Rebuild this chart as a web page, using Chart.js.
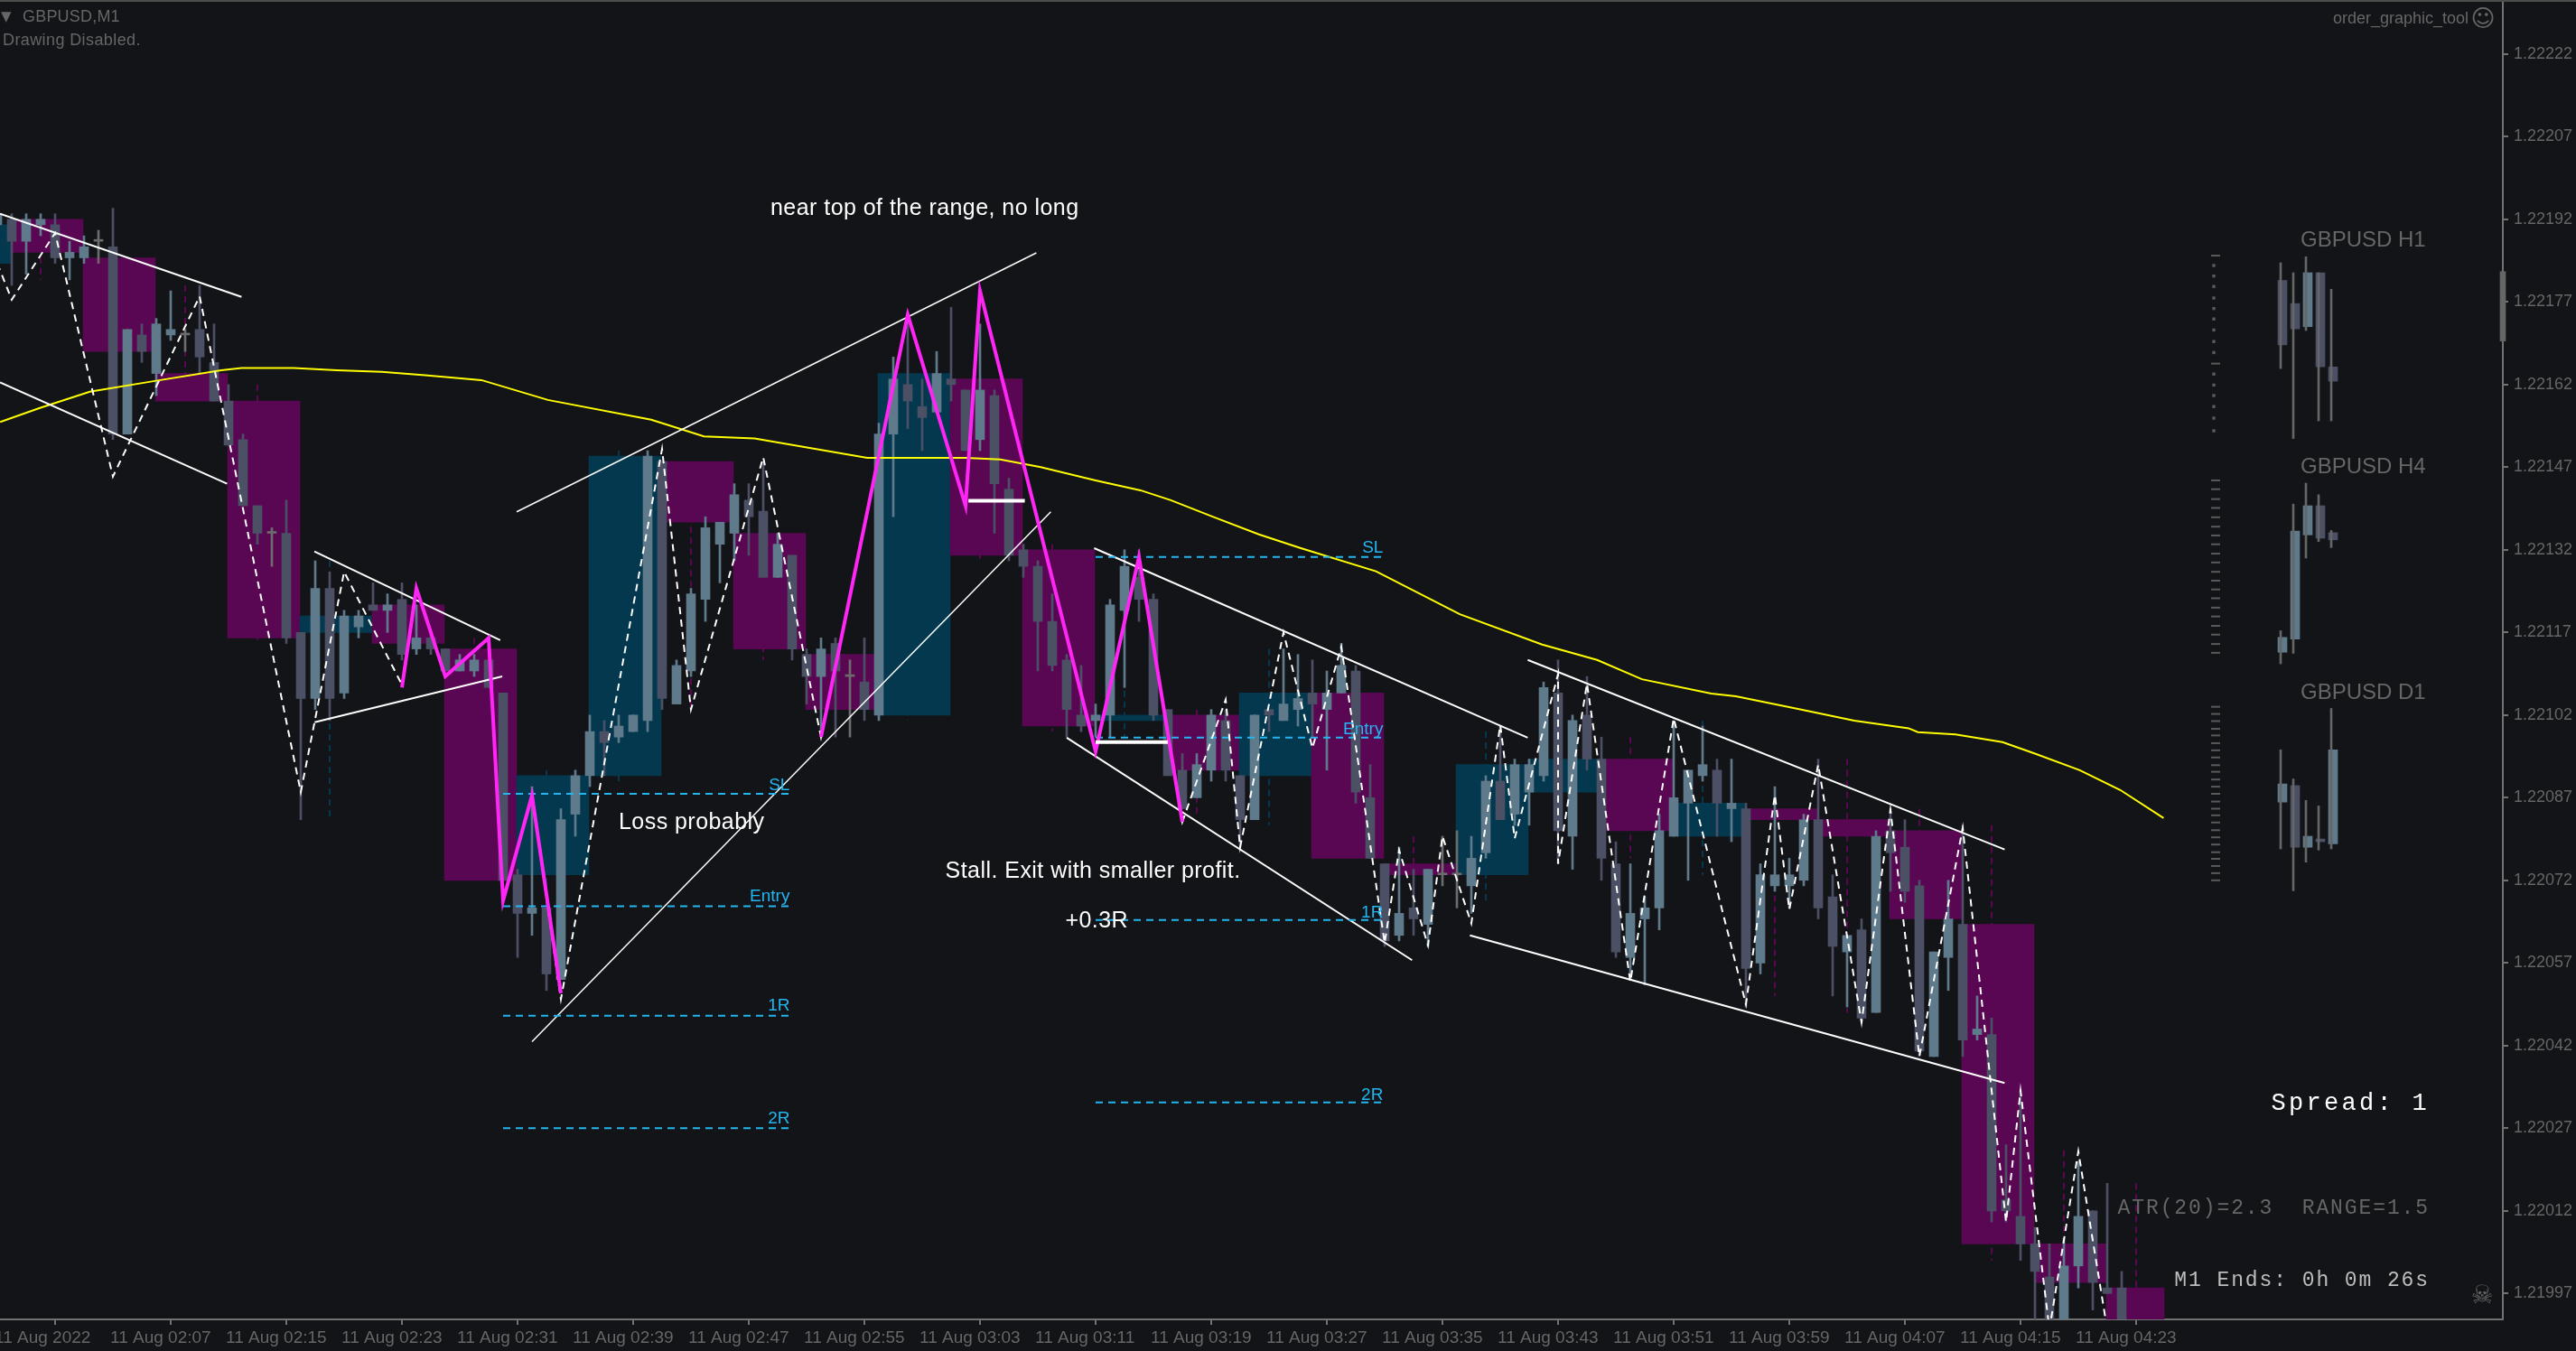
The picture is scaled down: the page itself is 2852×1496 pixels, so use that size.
<!DOCTYPE html>
<html lang="en">
<head>
<meta charset="UTF-8">
<title>GBPUSD,M1</title>
<script src="https://cdn.jsdelivr.net/npm/chart.js"></script>
<style>
    * { margin: 0; padding: 0; box-sizing: border-box; }
    body { background: #131417; overflow: hidden; }
    canvas { display: block; }
</style>
</head>
<body>
<canvas id="chart" width="2852" height="1496"></canvas>
<script>
// M1 candles, x is minutes after 02:00 (first candle is 01:59)
const firstMinute = -1;
const opens = [
    1.22191,1.22192,1.22188,1.22191,1.22191,1.22185,1.22185,1.22188,1.22187,1.22153,
    1.22171,1.22164,1.22171,1.22171,1.22172,1.22166,1.22159,1.22152,1.22140,1.22135,
    1.22135,1.22117,1.22105,1.22125,1.22106,1.22118,1.22122,1.22121,1.22123,1.22114,
    1.22116,1.22114,1.22110,1.22110,1.22112,1.22106,1.22073,1.22066,1.22067,1.22054,
    1.22084,1.22091,1.22099,1.22098,1.22099,1.22101,1.22148,1.22104,1.22110,1.22123,
    1.22133,1.22135,1.22141,1.22139,1.22127,1.22131,1.22113,1.22109,1.22115,1.22109,
    1.22108,1.22102,1.22153,1.22162,1.22158,1.22157,1.22163,1.22161,1.22152,1.22160,
    1.22143,1.22132,1.22129,1.22119,1.22112,1.22102,1.22101,1.22102,1.22121,1.22127,
    1.22123,1.22103,1.22092,1.22087,1.22092,1.22101,1.22091,1.22083,1.22103,1.22101,
    1.22103,1.22106,1.22103,1.22106,1.22110,1.22087,1.22075,1.22062,1.22067,1.22064,
    1.22073,1.22073,1.22071,1.22077,1.22090,1.22084,1.22088,1.22091,1.22106,1.22080,
    1.22102,1.22094,1.22075,1.22058,1.22065,1.22067,1.22080,1.22086,1.22091,1.22092,
    1.22085,1.22085,1.22057,1.22071,1.22071,1.22072,1.22083,1.22069,1.22059,1.22063,
    1.22048,1.22081,1.22078,1.22071,1.22040,1.22058,1.22064,1.22044,1.22044,1.22014,
    1.22011,1.22006,1.22000,1.21991,1.22002,1.22012,1.21998,1.21998
];
const highs = [
    1.22194,1.22193,1.22193,1.22193,1.22193,1.22188,1.22189,1.22190,1.22194,1.22172,
    1.22173,1.22174,1.22179,1.22172,1.22180,1.22173,1.22162,1.22153,1.22140,1.22136,
    1.22141,1.22117,1.22130,1.22128,1.22121,1.22121,1.22126,1.22124,1.22126,1.22122,
    1.22117,1.22114,1.22113,1.22113,1.22112,1.22106,1.22074,1.22089,1.22067,1.22085,
    1.22092,1.22102,1.22101,1.22102,1.22102,1.22150,1.22148,1.22112,1.22125,1.22138,
    1.22137,1.22144,1.22144,1.22148,1.22135,1.22131,1.22114,1.22116,1.22116,1.22112,
    1.22116,1.22155,1.22167,1.22174,1.22163,1.22168,1.22176,1.22161,1.22173,1.22161,
    1.22145,1.22133,1.22130,1.22124,1.22113,1.22111,1.22104,1.22123,1.22132,1.22132,
    1.22124,1.22103,1.22095,1.22095,1.22103,1.22103,1.22091,1.22102,1.22103,1.22114,
    1.22113,1.22112,1.22110,1.22115,1.22111,1.22093,1.22075,1.22078,1.22074,1.22074,
    1.22080,1.22081,1.22080,1.22091,1.22100,1.22094,1.22094,1.22108,1.22112,1.22102,
    1.22109,1.22098,1.22079,1.22075,1.22069,1.22084,1.22101,1.22092,1.22100,1.22094,
    1.22094,1.22086,1.22075,1.22089,1.22076,1.22084,1.22094,1.22073,1.22062,1.22065,
    1.22081,1.22085,1.22083,1.22072,1.22059,1.22072,1.22082,1.22051,1.22047,1.22024,
    1.22034,1.22009,1.22006,1.22007,1.22021,1.22012,1.22017,1.22001
];
const lows = [
    1.22190,1.22180,1.22182,1.22189,1.22184,1.22181,1.22184,1.22184,1.22152,1.22153,
    1.22166,1.22160,1.22170,1.22168,1.22164,1.22159,1.22151,1.22140,1.22133,1.22129,
    1.22115,1.22083,1.22103,1.22101,1.22105,1.22116,1.22121,1.22117,1.22112,1.22113,
    1.22113,1.22110,1.22110,1.22109,1.22107,1.22072,1.22058,1.22062,1.22052,1.22054,
    1.22080,1.22089,1.22091,1.22097,1.22099,1.22099,1.22103,1.22104,1.22109,1.22119,
    1.22126,1.22130,1.22131,1.22127,1.22127,1.22112,1.22104,1.22099,1.22098,1.22098,
    1.22101,1.22101,1.22138,1.22154,1.22150,1.22157,1.22159,1.22150,1.22150,1.22135,
    1.22130,1.22127,1.22110,1.22110,1.22098,1.22099,1.22098,1.22098,1.22107,1.22119,
    1.22101,1.22091,1.22085,1.22087,1.22090,1.22090,1.22078,1.22083,1.22099,1.22101,
    1.22100,1.22098,1.22092,1.22106,1.22086,1.22076,1.22060,1.22061,1.22062,1.22060,
    1.22071,1.22067,1.22066,1.22076,1.22083,1.22082,1.22082,1.22090,1.22075,1.22074,
    1.22092,1.22072,1.22058,1.22054,1.22053,1.22063,1.22080,1.22072,1.22090,1.22080,
    1.22079,1.22049,1.22055,1.22070,1.22067,1.22071,1.22065,1.22051,1.22049,1.22047,
    1.22048,1.22070,1.22068,1.22040,1.22040,1.22052,1.22040,1.22043,1.22010,1.22010,
    1.22003,1.21991,1.21991,1.21991,1.21998,1.21994,1.21997,1.21991
];
const closes = [
    1.22193,1.22188,1.22192,1.22192,1.22185,1.22186,1.22187,1.22188,1.22153,1.22172,
    1.22168,1.22173,1.22172,1.22171,1.22167,1.22159,1.22151,1.22140,1.22135,1.22135,
    1.22116,1.22105,1.22125,1.22105,1.22120,1.22120,1.22121,1.22122,1.22113,1.22116,
    1.22114,1.22110,1.22112,1.22112,1.22107,1.22072,1.22066,1.22067,1.22055,1.22083,
    1.22091,1.22099,1.22097,1.22100,1.22102,1.22149,1.22105,1.22111,1.22124,1.22136,
    1.22137,1.22142,1.22138,1.22127,1.22133,1.22114,1.22109,1.22114,1.22110,1.22109,
    1.22103,1.22153,1.22163,1.22159,1.22156,1.22164,1.22162,1.22150,1.22161,1.22144,
    1.22131,1.22129,1.22119,1.22111,1.22103,1.22100,1.22102,1.22122,1.22129,1.22123,
    1.22102,1.22091,1.22085,1.22093,1.22102,1.22092,1.22083,1.22102,1.22102,1.22104,
    1.22105,1.22104,1.22106,1.22111,1.22088,1.22076,1.22061,1.22066,1.22065,1.22074,
    1.22073,1.22073,1.22076,1.22090,1.22083,1.22093,1.22093,1.22107,1.22081,1.22101,
    1.22094,1.22076,1.22059,1.22066,1.22067,1.22081,1.22087,1.22092,1.22093,1.22086,
    1.22086,1.22056,1.22073,1.22073,1.22073,1.22083,1.22067,1.22060,1.22062,1.22047,
    1.22080,1.22077,1.22070,1.22041,1.22059,1.22065,1.22043,1.22045,1.22012,1.22012,
    1.22006,1.22001,1.21991,1.22002,1.22011,1.21999,1.21997,1.21991
];

// M5 boxes behind the candles
const boxMinutes = [-5,0,5,10,15,20,25,30,35,40,45,50,55,60,65,70,75,80,85,90,95,100,105,110,115,120,125,130,135,140];
const boxOpens = [1.22184,1.22192,1.22185,1.22164,1.22159,1.22117,1.22122,1.22114,1.22073,1.22091,1.22148,1.22135,1.22113,1.22102,1.22163,1.22132,1.22101,1.22102,1.22091,1.22106,1.22075,1.22073,1.22088,1.22094,1.22080,1.22085,1.22083,1.22081,1.22064,1.22006];
const boxCloses = [1.22191,1.22186,1.22168,1.22159,1.22116,1.22120,1.22115,1.22072,1.22091,1.22149,1.22137,1.22114,1.22103,1.22164,1.22131,1.22100,1.22102,1.22092,1.22106,1.22076,1.22073,1.22093,1.22094,1.22081,1.22086,1.22083,1.22080,1.22065,1.22006,1.21999];
const boxHighs = [1.22191,1.22193,1.22194,1.22180,1.22162,1.22130,1.22126,1.22116,1.22092,1.22150,1.22148,1.22148,1.22116,1.22164,1.22163,1.22133,1.22132,1.22103,1.22114,1.22106,1.22080,1.22099,1.22094,1.22098,1.22101,1.22085,1.22094,1.22085,1.22082,1.22023];
const boxLows = [1.22184,1.22181,1.22152,1.22159,1.22115,1.22083,1.22112,1.22072,1.22053,1.22090,1.22103,1.22112,1.22098,1.22101,1.22130,1.22099,1.22098,1.22084,1.22082,1.22076,1.22062,1.22068,1.22088,1.22076,1.22073,1.22051,1.22048,1.22040,1.22003,1.21991];
// the M5 bar still forming at the right edge
const liveBoxMinute = 145;
const liveBoxOpen = 1.21998;
const liveBoxClose = 1.21991;
const liveBoxHigh = 1.22017;

// moving average
const maMinutes = [-0.8,1.9,5.4,9.8,14.5,15.9,19.5,22.5,25.6,28.6,32.5,37.1,44.25,47.9,51.4,59.2,66,68.4,71.2,75,78.1,80.2,83.1,86.3,89.2,94.4,100.2,105.9,109.7,112.8,117.6,119.3,123.6,127.5,131.25,131.9,134.5,137.75,140,143.1,145.9,148.9];
const maPrices = [1.221552,1.221577,1.221607,1.221626,1.221646,1.22165,1.22165,1.221646,1.221643,1.221637,1.221628,1.221592,1.221556,1.221526,1.221522,1.221487,1.221487,1.221484,1.22147,1.221446,1.221428,1.22141,1.22138,1.221348,1.221323,1.221281,1.221203,1.221148,1.22112,1.221085,1.221059,1.221054,1.221031,1.22101,1.220996,1.220989,1.220985,1.220971,1.22095,1.22092,1.220884,1.220833];

// dashed swing line
const swingMinutes = [-1,0,3,7,13,20,23,27,28,30,33,34,36,38,45,47,52,56,62,66,67,75,78,81,84,85,88,90,92,95,96,98,99,101,103,104,107,107,109,112,115,120,122,123,125,128,130,132,135,138,139,141,143,145];
const swingPrices = [1.22184,1.221774,1.221895,1.221453,1.22178,1.22088,1.22128,1.221075,1.22125,1.22109,1.22116,1.220683,1.220874,1.220504,1.221503,1.22103,1.221488,1.22098,1.221747,1.2214,1.22179,1.220954,1.221307,1.220826,1.221048,1.22078,1.22117,1.22096,1.221144,1.220606,1.220775,1.220602,1.2208,1.220642,1.221002,1.220796,1.221094,1.22075,1.221077,1.220536,1.221014,1.220495,1.220875,1.220667,1.22093,1.220462,1.220848,1.2204,1.220815,1.2201,1.220338,1.219905,1.220228,1.219905];

// magenta legs, null breaks the line
const legMinutes = [27,28,30,33,34,36,38,null,56,62,66,67,75,78,81];
const legPrices = [1.22107,1.22125,1.22109,1.22116,1.220683,1.220874,1.220515,null,1.22098,1.221747,1.2214,1.22179,1.220954,1.221307,1.220826];

// hand drawn trend lines
const trendStartMinutes = [-0.81,-0.81,20.94,20.96,34.94,36,74.9,73,104.9,100.9];
const trendStartPrices = [1.22193,1.221624,1.221317,1.221007,1.221389,1.220427,1.221323,1.220979,1.22112,1.22062];
const trendEndMinutes = [15.9,14.9,33.8,33.94,70.9,71.9,104.9,96.9,137.9,137.9];
const trendEndPrices = [1.221779,1.22144,1.221156,1.22109,1.221859,1.221389,1.220979,1.220575,1.220776,1.220352];
const thinTrendLines = [4,5];
const exitMinutes = [[66.2,70.1],[75,80]];
const exitPrices = [1.221409,1.220971];

// trade levels
const levelStartMinutes = [34,34,34,34,75,75,75,75];
const levelEndMinutes = [53.84,53.84,53.84,53.84,94.9,94.9,94.9,94.9];
const levelPrices = [1.220877,1.220673,1.220474,1.22027,1.221307,1.220979,1.220648,1.220317];
const levelLabels = ['SL','Entry','1R','2R','SL','Entry','1R','2R'];
const levelLabelPrices = [1.220884,1.220682,1.220483,1.220279,1.221315,1.220985,1.220653,1.220321];

// notes on the chart
const noteTexts = ['near top of the range, no long','Loss probably','Stall. Exit with smaller profit.','+0.3R'];
const noteMinutes = [52.5,42,64.6,72.9];
const notePrices = [1.221928,1.220813,1.220725,1.220635];

// small H1 / H4 / D1 candles, slots share the main x scale
const miniSlots = [157,157.875,158.75,159.625,160.5];
const miniOpens = {
    H1: [1.221809,1.221767,1.221725,1.221823,1.221652],
    H4: [1.221134,1.221158,1.221347,1.2214,1.221351],
    D1: [1.220862,1.220892,1.22078,1.220795,1.220786]
};
const miniCloses = {
    H1: [1.221692,1.221721,1.221823,1.221652,1.221626],
    H4: [1.221161,1.221354,1.2214,1.221341,1.221338],
    D1: [1.220895,1.22078,1.2208,1.22079,1.220957]
};
const miniHighs = {
    H1: [1.221841,1.221823,1.221852,1.221823,1.221793],
    H4: [1.221173,1.221403,1.221441,1.22142,1.221355],
    D1: [1.220957,1.220904,1.220865,1.220855,1.221032]
};
const miniLows = {
    H1: [1.221649,1.221522,1.221718,1.221554,1.221554],
    H4: [1.221113,1.221132,1.221305,1.221335,1.221324],
    D1: [1.220777,1.220701,1.220753,1.220775,1.220777]
};

// ruler marks left of the small candles
const rulerDashMinute = 152.5;
const rulerDotMinute = 152.375;
const h1RulerDashes = [1.221854,1.221658];
const h1RulerDots = [1.221836,1.221817,1.221798,1.221777,1.221758,1.221739,1.221719,1.221698,1.221678,1.221639,1.221619,1.2216,1.22158,1.221559,1.221536];
const h4RulerDashes = [1.221446,1.22143,1.221412,1.221396,1.221379,1.221362,1.221346,1.22133,1.221313,1.221297,1.22128,1.221264,1.221248,1.221232,1.221215,1.221199,1.221182,1.221166,1.221149,1.221133];
const d1RulerDashes = [1.221035,1.221022,1.221009,1.220995,1.220983,1.220969,1.220956,1.220943,1.220929,1.220917,1.220903,1.22089,1.220877,1.220863,1.22085,1.220838,1.220825,1.220811,1.220798,1.220785,1.220771,1.220759,1.220746,1.220733,1.22072];

// block on the price axis
const axisBlockMinute = 172.375;
const axisBlockPrices = [1.221699,1.221825];

// axes
const yTickValues = [1.22222,1.22207,1.22192,1.22177,1.22162,1.22147,1.22132,1.22117,1.22102,1.22087,1.22072,1.22057,1.22042,1.22027,1.22012,1.21997];
const xTickMinutes = [-1,7,15,23,31,39,47,55,63,71,79,87,95,103,111,119,127,135,143];
const xTickLabels = ['11 Aug 2022','11 Aug 02:07','11 Aug 02:15','11 Aug 02:23','11 Aug 02:31','11 Aug 02:39','11 Aug 02:47','11 Aug 02:55','11 Aug 03:03','11 Aug 03:11','11 Aug 03:19','11 Aug 03:27','11 Aug 03:35','11 Aug 03:43','11 Aug 03:51','11 Aug 03:59','11 Aug 04:07','11 Aug 04:15','11 Aug 04:23'];

const UP = '#5f7a8b', DOWN = '#4b5064', DOJI = '#6c6c6c';
const BOX_DOWN = '#5a0753', BOX_UP = '#04384e';
const WHITE = '#ffffff', CYAN = '#22b6f2', MAGENTA = '#ff26f5', YELLOW = '#ffff00';
const AXIS = '#727272', DIM = '#666666';
const boxShift = 2.4375;
const liveBoxShift = 1.9375;
const miniBodyShift = 0.125;

const candleColor = i => opens[i] === closes[i] ? DOJI : (closes[i] > opens[i] ? UP : DOWN);
const bar = (data, color, thickness, extra) => ({
    type: 'bar', data, backgroundColor: color, barThickness: thickness,
    grouped: false, borderWidth: 0, ...extra
});
const line = (data, color, width, dash, extra) => ({
    type: 'line', data, borderColor: color, borderWidth: width, borderDash: dash || [],
    pointRadius: 0, tension: 0, fill: false, spanGaps: false, ...extra
});
const marks = (x, values, color, style, radius) => ({
    type: 'scatter', data: values.map(y => ({ x, y })), showLine: false,
    pointStyle: style, pointRadius: radius, borderColor: color, backgroundColor: color, borderWidth: 2
});
const zip = (xs, ys) => xs.map((x, i) => ({ x, y: ys[i] }));

// dashed wicks of the M5 boxes, one point pair per box, gaps between
const boxWicks = up => {
    const pts = [];
    boxMinutes.forEach((m, i) => {
        if ((boxCloses[i] > boxOpens[i]) !== up) return;
        pts.push({ x: m + 2, y: boxHighs[i] }, { x: m + 2, y: boxLows[i] }, { x: m + 2, y: null });
    });
    return pts;
};
const livePurpleWick = [{ x: liveBoxMinute + 2, y: liveBoxHigh }, { x: liveBoxMinute + 2, y: liveBoxClose }];

const minutes = opens.map((_, i) => firstMinute + i);
const datasets = [
    line(boxWicks(false), BOX_DOWN, 2, [7, 5]),
    line(boxWicks(true), BOX_UP, 2, [7, 5]),
    line(livePurpleWick, BOX_DOWN, 2, [7, 5]),
    bar(boxMinutes.map((m, i) => ({ x: m + boxShift, y: [boxOpens[i], boxCloses[i]] })),
        boxMinutes.map((m, i) => boxCloses[i] > boxOpens[i] ? BOX_UP : BOX_DOWN), 80),
    bar([{ x: liveBoxMinute + liveBoxShift, y: [liveBoxOpen, liveBoxClose] }], BOX_DOWN, 64),
    bar(minutes.map((m, i) => ({ x: m, y: [lows[i], highs[i]] })), minutes.map((m, i) => candleColor(i)), 2),
    bar(minutes.map((m, i) => ({ x: m, y: [opens[i], closes[i]] })), minutes.map((m, i) => candleColor(i)), 10, { minBarLength: 2 }),
    line(zip(maMinutes, maPrices), YELLOW, 2),
    ...trendStartMinutes.map((m, i) => line(
        [{ x: m, y: trendStartPrices[i] }, { x: trendEndMinutes[i], y: trendEndPrices[i] }],
        WHITE, thinTrendLines.includes(i) ? 1.5 : 2)),
    ...levelStartMinutes.map((m, i) => line(
        [{ x: m, y: levelPrices[i] }, { x: levelEndMinutes[i], y: levelPrices[i] }], CYAN, 2, [8, 6])),
    line(zip(swingMinutes, swingPrices), WHITE, 2, [8, 6]),
    line(zip(legMinutes, legPrices), MAGENTA, 4),
    ...exitMinutes.map((span, i) => line(span.map(x => ({ x, y: exitPrices[i] })), WHITE, 4)),
    bar([{ x: axisBlockMinute, y: axisBlockPrices }], DIM, 6, { clip: false })
];
['H1', 'H4', 'D1'].forEach(tf => {
    datasets.push(bar(miniSlots.map((m, i) => ({ x: m + miniBodyShift, y: [miniOpens[tf][i], miniCloses[tf][i]] })),
        miniSlots.map((m, i) => miniCloses[tf][i] > miniOpens[tf][i] ? UP : DOWN), 10, { minBarLength: 2 }));
    datasets.push(bar(miniSlots.map((m, i) => ({ x: m, y: [miniLows[tf][i], miniHighs[tf][i]] })), DIM, 2));
});
datasets.push(marks(rulerDashMinute, h1RulerDashes, '#5a5a5a', 'line', 5));
datasets.push(marks(rulerDotMinute, h1RulerDots, '#5a5a5a', 'rect', 1));
datasets.push(marks(rulerDashMinute, h4RulerDashes, '#5a5a5a', 'line', 5));
datasets.push(marks(rulerDashMinute, d1RulerDashes, '#5a5a5a', 'line', 5));
// chart.js paints high order first
datasets.forEach((d, i) => { d.order = datasets.length - i; });

const textPlugin = {
    id: 'chartText',
    beforeDraw(chart) {
        const c = chart.ctx;
        c.fillStyle = '#4d4d4d';
        c.fillRect(0, 0, chart.width, 2);
    },
    afterDatasetsDraw(chart) {
        const c = chart.ctx, xs = chart.scales.x, ys = chart.scales.y;
        const put = (text, x, y, font, color, align, spacing) => {
            c.font = font;
            c.fillStyle = color;
            c.textAlign = align || 'left';
            c.textBaseline = 'alphabetic';
            c.letterSpacing = spacing || '0px';
            c.fillText(text, x, y);
        };
        c.save();
        const sans = '"Liberation Sans"', mono = '"Liberation Mono"';
        noteTexts.forEach((t, i) => put(t, xs.getPixelForValue(noteMinutes[i]), ys.getPixelForValue(notePrices[i]), `25px ${sans}`, WHITE, 'left', '0.45px'));
        levelLabels.forEach((t, i) => put(t, xs.getPixelForValue(levelEndMinutes[i]), ys.getPixelForValue(levelLabelPrices[i]), `19px ${sans}`, CYAN, 'right'));
        // fixed screen labels of the terminal
        put('▼', 1, 23, `15px "DejaVu Sans"`, DIM);
        put('GBPUSD,M1', 25, 24, `18px ${sans}`, DIM, 'left', '0.2px');
        put('Drawing Disabled.', 3, 50, `18px ${sans}`, DIM, 'left', '0.4px');
        put('order_graphic_tool', 2733, 26, `18px ${sans}`, DIM, 'right');
        put('☺', 2749, 29, `26px "DejaVu Sans"`, DIM, 'center');
        put('☠', 2748, 1443, `28px "DejaVu Sans"`, DIM, 'center');
        put('GBPUSD H1', 2547, 273, `24px ${sans}`, DIM);
        put('GBPUSD H4', 2547, 524, `24px ${sans}`, DIM);
        put('GBPUSD D1', 2547, 774, `24px ${sans}`, DIM);
        put('Spread: 1', 2690, 1229, `27px ${mono}`, WHITE, 'right', '3.3px');
        put('ATR(20)=2.3  RANGE=1.5', 2690, 1344, `23px ${mono}`, DIM, 'right', '1.9px');
        put('M1 Ends: 0h 0m 26s', 2690, 1424, `23px ${mono}`, '#bdbdbd', 'right', '1.9px');
        c.restore();
    }
};

new Chart(document.getElementById('chart').getContext('2d'), {
    data: { datasets },
    plugins: [textPlugin],
    options: {
        responsive: false,
        devicePixelRatio: 1,
        animation: false,
        events: [],
        layout: { autoPadding: false, padding: { top: 3, left: 0, right: 0, bottom: 0 } },
        plugins: { legend: { display: false }, tooltip: { enabled: false }, title: { display: false } },
        scales: {
            x: {
                type: 'linear',
                offset: false,
                min: -0.8125,
                max: 172.375,
                afterBuildTicks: s => { s.ticks = xTickMinutes.map(value => ({ value })); },
                afterFit: s => { s.height = 35; s.paddingLeft = 0; s.paddingRight = 0; },
                border: { color: AXIS, width: 2 },
                grid: { drawOnChartArea: false, color: AXIS, lineWidth: 2, tickLength: 6 },
                ticks: {
                    autoSkip: false, maxRotation: 0, align: 'start', padding: 3, labelOffset: -3,
                    color: DIM, font: { family: '"Liberation Sans"', size: 19 },
                    callback: (v, i) => xTickLabels[i]
                }
            },
            y: {
                type: 'linear',
                position: 'right',
                min: 1.21992295,
                max: 1.2223131,
                afterBuildTicks: s => { s.ticks = yTickValues.map(value => ({ value })); },
                afterFit: s => { s.width = 81; s.paddingTop = 0; s.paddingBottom = 0; },
                border: { color: AXIS, width: 2 },
                grid: { drawOnChartArea: false, color: AXIS, lineWidth: 2, tickLength: 6 },
                ticks: {
                    autoSkip: false, padding: 6, color: DIM, font: { family: '"Liberation Sans"', size: 18 },
                    callback: v => v.toFixed(5)
                }
            }
        }
    }
});
</script>
</body>
</html>
